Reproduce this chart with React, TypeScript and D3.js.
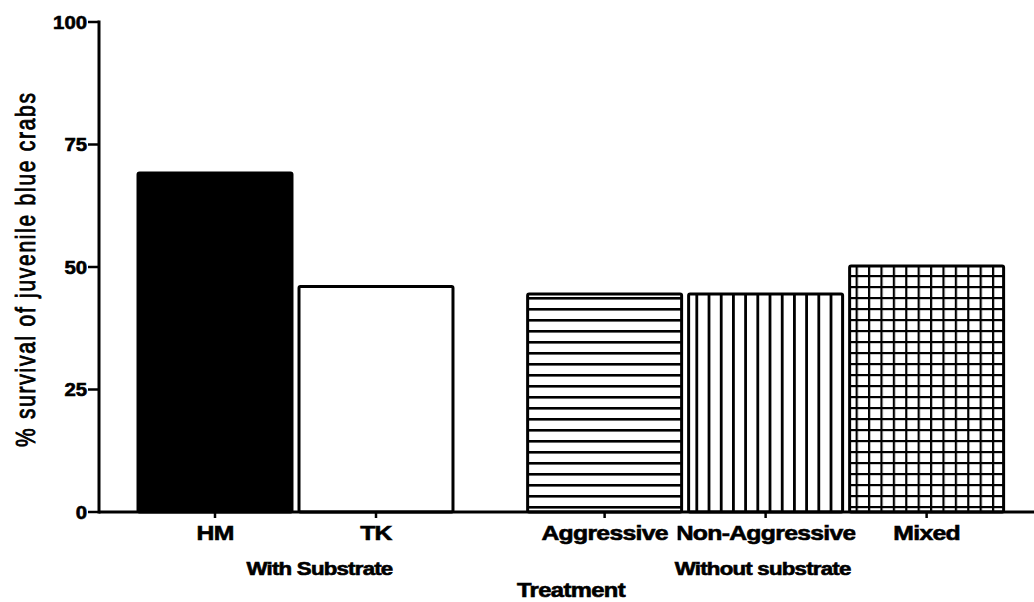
import React from "react";
import * as d3 from "d3";

const categories = ["HM", "TK", "Aggressive", "Non-Aggressive", "Mixed"];
const survival = [69.2, 46, 44.5, 44.5, 50.2];
const groupOf = [0, 0, 1, 1, 1];
const groupLabels = ["With Substrate", "Without substrate"];
const fills = ["solid", "open", "hlines", "vlines", "grid"];
const yTicks = [0, 25, 50, 75, 100];

const W = 1034;
const H = 602;
const FONT = "'Liberation Sans', Arial, Helvetica, sans-serif";

export default function App() {
  const y = d3.scaleLinear().domain([0, 100]).range([512, 22]);
  const gap = 0.42;
  const slot = (i: number) => i + groupOf[i] * gap;
  const x = d3.scaleLinear().domain([0, 1]).range([215, 376]);
  const step = x(1) - x(0);
  const bw = step * 0.975;
  const axisX = 99;
  const base = y(0);

  const groupCenters = groupLabels.map((_, g) => {
    const idx = categories.map((_, i) => i).filter((i) => groupOf[i] === g);
    return d3.mean(idx.map((i) => x(slot(i)))) as number;
  });
  const groupNudge = [24, -3];
  const heavy = { stroke: "#000", strokeWidth: 0.6 };

  return (
    <svg width={W} height={H} style={{ position: "absolute", left: 0, top: 0, background: "#fff" }}>
      <defs>
        <pattern id="hlines" patternUnits="userSpaceOnUse" width="12" height="11">
          <rect width="12" height="11" fill="#fff" />
          <rect y="0" width="12" height="2.6" fill="#000" />
        </pattern>
        <pattern id="vlines" patternUnits="userSpaceOnUse" width="12.2" height="12">
          <rect width="12.2" height="12" fill="#fff" />
          <rect x="0" width="2.8" height="12" fill="#000" />
        </pattern>
        <pattern id="grid" patternUnits="userSpaceOnUse" width="12.4" height="11">
          <rect width="12.4" height="11" fill="#fff" />
          <rect x="0" width="2.2" height="11" fill="#000" />
          <rect y="0" width="12.4" height="2.2" fill="#000" />
        </pattern>
        {categories.map((c, i) => (
          <clipPath id={`lab${i}`} key={c}>
            <rect x={x(slot(i)) - 88} y={500} width={178} height={60} />
          </clipPath>
        ))}
      </defs>

      {/* bars */}
      {categories.map((c, i) => {
        const cx = x(slot(i));
        const top = y(survival[i]);
        const f = fills[i];
        const fill = f === "solid" ? "#000" : f === "open" ? "#fff" : `url(#${f})`;
        return (
          <rect
            key={c}
            x={cx - bw / 2 + 1.5}
            y={top}
            width={bw - 3}
            height={base - top}
            fill={fill}
            stroke="#000"
            strokeWidth={3}
            rx={1.5}
          />
        );
      })}

      {/* y axis */}
      <line x1={axisX} x2={axisX} y1={y(100) - 1.5} y2={base + 1.5} stroke="#000" strokeWidth={3} />
      {yTicks.map((t) => (
        <g key={t}>
          <line x1={axisX - 11} x2={axisX} y1={y(t)} y2={y(t)} stroke="#000" strokeWidth={2.5} />
          <text
            transform={`translate(${axisX - 12},${y(t) + 6.5}) scale(1.13,1)`}
            textAnchor="end"
            fontFamily={FONT}
            fontWeight="bold"
            fontSize={18}
            fill="#000"
            {...heavy}
          >
            {t}
          </text>
        </g>
      ))}

      {/* x axis */}
      <line x1={axisX} x2={W} y1={base} y2={base} stroke="#000" strokeWidth={3} />
      {categories.map((c, i) => {
        const cx = x(slot(i));
        return (
          <g key={c}>
            <line x1={cx} x2={cx} y1={base} y2={base + 6} stroke="#000" strokeWidth={2.5} />
            <g clipPath={`url(#lab${i})`}>
              <text
                transform={`translate(${cx},540) scale(1.18,1)`}
                textAnchor="middle"
                fontFamily={FONT}
                fontWeight="bold"
                fontSize={21}
                letterSpacing={-0.6}
                fill="#000"
                {...heavy}
              >
                {c}
              </text>
            </g>
          </g>
        );
      })}

      {groupLabels.map((g, k) => (
        <text
          key={g}
          transform={`translate(${groupCenters[k] + groupNudge[k]},575) scale(1.27,1)`}
          textAnchor="middle"
          fontFamily={FONT}
          fontWeight="bold"
          fontSize={17.5}
          letterSpacing={-0.6}
          fill="#000"
          {...heavy}
        >
          {g}
        </text>
      ))}

      <text
        transform={`translate(571,597) scale(1.22,1)`}
        textAnchor="middle"
        fontFamily={FONT}
        fontWeight="bold"
        fontSize={19.5}
        letterSpacing={-0.5}
        fill="#000"
        {...heavy}
      >
        Treatment
      </text>

      <text
        transform={`translate(35,270) rotate(-90) scale(0.75,1)`}
        textAnchor="middle"
        fontFamily={FONT}
        fontSize={28}
        textLength={472}
        lengthAdjust="spacing"
        fill="#000"
        stroke="#000"
        strokeWidth={0.9}
      >
        % survival of juvenile blue crabs
      </text>
    </svg>
  );
}
